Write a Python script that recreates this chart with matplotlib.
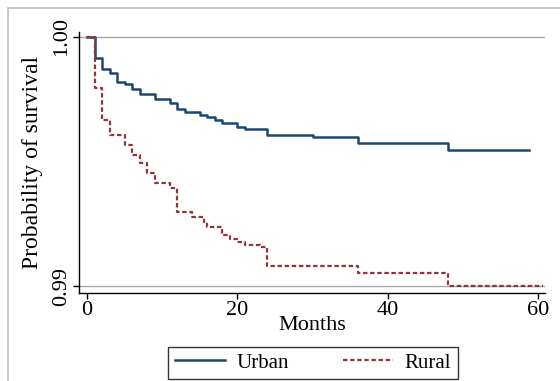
import numpy as np
import matplotlib
matplotlib.use("Agg")
from matplotlib import pyplot as plt
from matplotlib.patches import Rectangle

# Kaplan-Meier step estimates
urban_t = [0, 1, 2, 3, 4, 5, 6, 7, 9, 11, 12, 13, 15, 16, 17, 18, 20, 21, 24, 30, 36, 48, 58.8]
urban_s = [1.0, 0.99913, 0.99870, 0.99853, 0.99819, 0.99810, 0.99789, 0.99770, 0.99749,
           0.99733, 0.99709, 0.99699, 0.99686, 0.99677, 0.99666, 0.99655, 0.99637,
           0.99629, 0.99606, 0.99598, 0.99575, 0.99546, 0.99546]

rural_t = [0, 1, 2, 3, 5, 6, 7, 8, 9, 11, 12, 14, 15.6, 16, 18, 19, 20, 21, 23, 24, 36, 48, 60.6]
rural_s = [1.0, 0.99793, 0.99666, 0.99606, 0.99566, 0.99525, 0.99492, 0.99452, 0.99412,
           0.99392, 0.99298, 0.99278, 0.99258, 0.99238, 0.99205, 0.99187, 0.99178,
           0.99164, 0.99155, 0.99080, 0.99053, 0.99001, 0.99001]

x_ticks = [0, 20, 40, 60]
y_ticks = [0.99, 1.00]
y_ticklabels = ["0.99", "1.00"]

navy = "#1a476f"
maroon = "#90353b"

plt.rcParams['font.family'] = ['Liberation Serif', 'DejaVu Serif']

W, H = 560, 381
fig = plt.figure(figsize=(W / 100, H / 100), dpi=100)

# outer graph-region frame (cropped at right and bottom)
fig.patches.append(Rectangle((8 / W, -0.05), 1.2, 1 - 8 / H + 0.05, transform=fig.transFigure,
                             fill=False, edgecolor="#c0c0c0", linewidth=1.2))

ax = fig.add_axes([79 / W, (381 - 293) / H, 466 / W, 261 / H])
ax.set_facecolor("none")

for y in y_ticks:
    ax.axhline(y, color="#a8a8a8", linewidth=1.0, zorder=1)

ax.step(urban_t, urban_s, where="post", color=navy, linewidth=1.8, label="Urban", zorder=3)
ax.step(rural_t, rural_s, where="post", color=maroon, linewidth=1.6,
        linestyle=(0, (2.0, 1.2)), label="Rural", zorder=3)

ax.set_xlim(-1.064, 60.93)
ax.set_ylim(0.98972, 1.000189)

ax.spines["top"].set_visible(False)
ax.spines["right"].set_visible(False)
ax.spines["left"].set_linewidth(1.0)
ax.spines["bottom"].set_linewidth(1.0)

ax.set_xticks(x_ticks)
ax.set_yticks(y_ticks)
ax.set_yticklabels(y_ticklabels, rotation=90, va="center")
ax.tick_params(direction="out", length=4, width=1.0, labelsize=16, pad=2)

ax.set_xlabel("Months", fontsize=16, labelpad=-3)
ax.set_ylabel("Probability of survival", fontsize=17, labelpad=6)

fig.legend(loc="center", bbox_to_anchor=(313 / W, 1 - 363 / H), ncol=2, fontsize=15,
           frameon=True, fancybox=False, edgecolor="#333333", framealpha=1,
           handlelength=2.4, columnspacing=2.6, handletextpad=0.55,
           borderpad=0.32, borderaxespad=0)

fig.savefig("out.png", dpi=100)
